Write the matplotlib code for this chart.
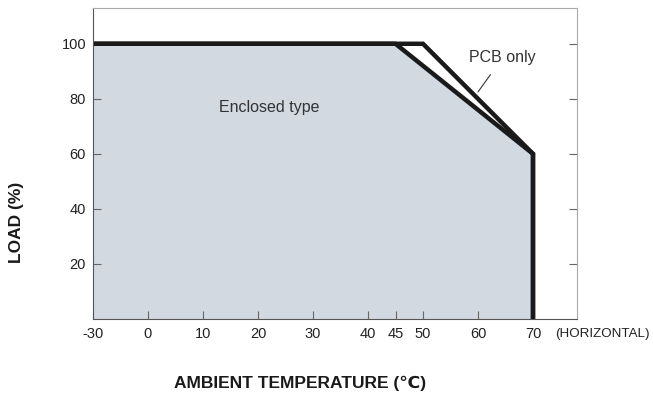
import numpy as np
import matplotlib.pyplot as plt

plt.rcParams['font.family'] = ['Liberation Sans', 'DejaVu Sans']

# derating curves (temperature in degC, load in %)
temp_enclosed = [-30, 45, 70, 70]
load_enclosed = [100, 100, 60, 0]
temp_pcb = [-30, 50, 70, 70]
load_pcb = [100, 100, 60, 0]

x_ticks = [-30, 0, 10, 20, 30, 40, 45, 50, 60, 70]
y_ticks = [20, 40, 60, 80, 100]


def pos(t):
    # axis is broken on the left: -30 is drawn where -10 would be
    t = np.asarray(t, dtype=float)
    return np.where(t < -10, -10, t)


fig = plt.figure(figsize=(6.53, 4.01), dpi=100)
ax = fig.add_axes([93 / 653, 1 - 319 / 401, (577 - 93) / 653, (319 - 8) / 401])

ax.fill_between(pos(temp_enclosed), load_enclosed, 0, color='#d2d9e1', lw=0)
ax.plot(pos(temp_pcb), load_pcb, color='#1a1a1a', lw=3.2, solid_joinstyle='miter')
ax.plot(pos(temp_enclosed), load_enclosed, color='#1a1a1a', lw=3.2, solid_joinstyle='miter')

ax.set_xlim(-10, 78)
ax.set_ylim(0, 113)

ax.set_xticks(pos(x_ticks))
ax.set_xticklabels([str(v) for v in x_ticks])
ax.set_yticks(y_ticks)
ax.tick_params(direction='in', length=6, width=0.8, color='#666666',
               labelsize=10.5, labelcolor='#222222', right=True)
ax.tick_params(axis='x', pad=6)
ax.tick_params(axis='y', pad=5)

for side in ['left', 'bottom']:
    ax.spines[side].set_color('#555555')
for side in ['top', 'right']:
    ax.spines[side].set_color('#aaaaaa')

ax.text(22, 77, 'Enclosed type', fontsize=11.5, color='#333333', ha='center', va='center')
ax.annotate('PCB only', xy=(60, 82.5), xytext=(64.5, 95), fontsize=11.5, color='#333333',
            ha='center', va='center',
            arrowprops=dict(arrowstyle='-', color='#333333', lw=0.8, shrinkA=6, shrinkB=0))

fig.text(555 / 653, 1 - 334 / 401, '(HORIZONTAL)', fontsize=9.6, color='#222222',
         ha='left', va='center')
fig.text(300 / 653, 1 - 383 / 401, 'AMBIENT TEMPERATURE (℃)', fontsize=12.5,
         fontweight='bold', color='#1a1a1a', ha='center', va='center')
fig.text(17 / 653, 1 - 222 / 401, 'LOAD (%)', fontsize=12.5, fontweight='bold',
         color='#1a1a1a', rotation=90, ha='center', va='center')

fig.savefig('out.png', dpi=100)
